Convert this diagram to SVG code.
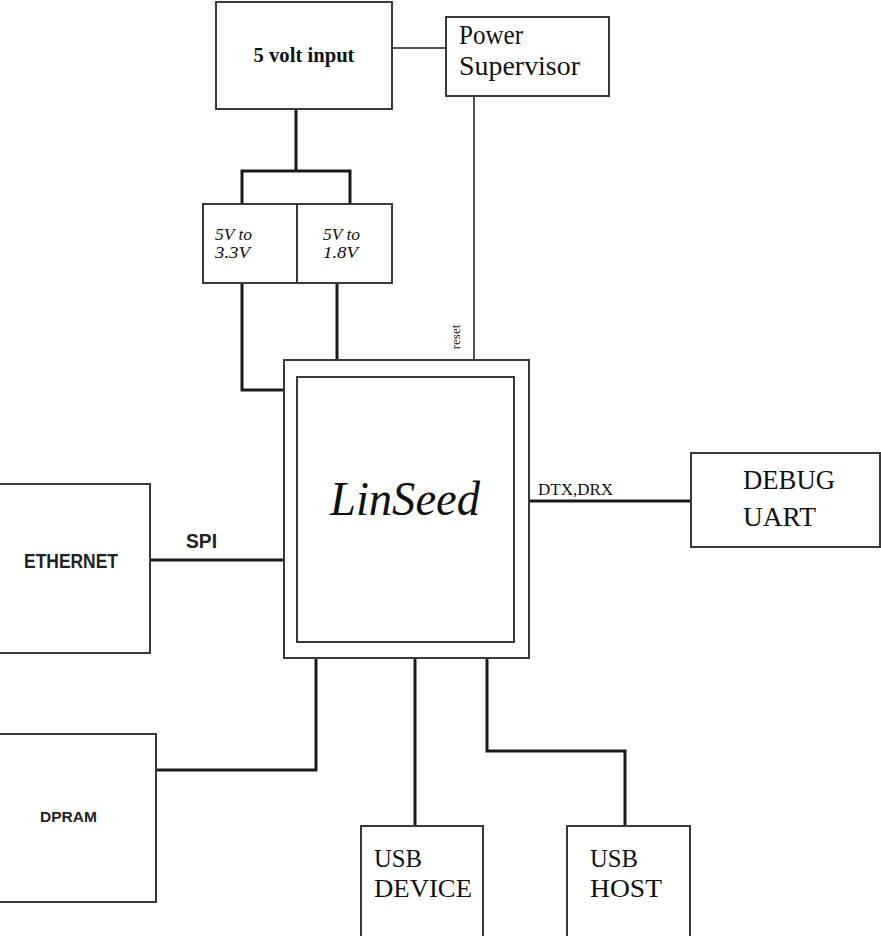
<svg xmlns="http://www.w3.org/2000/svg" width="881" height="936" viewBox="0 0 881 936">
<style>
.box{fill:#fff;stroke:#3a3a3a;stroke-width:2}
.ln{fill:none;stroke:#1a1a1a;stroke-width:3}
.thin{fill:none;stroke:#555;stroke-width:2}
.serif{font-family:"Liberation Serif","Times New Roman",serif;fill:#111}
.sans{font-family:"Liberation Sans",Arial,sans-serif;font-weight:bold;fill:#222}
</style>
<rect width="881" height="936" fill="#fff"/>
<g id="connectors">
<line class="thin" x1="392" y1="48" x2="446" y2="48"/>
<line class="thin" x1="474" y1="96" x2="474" y2="360"/>
<polyline class="ln" points="296,110 296,171"/>
<polyline class="ln" points="242,204 242,171 350,171 350,204"/>
<polyline class="ln" points="242,283 242,390 285,390"/>
<polyline class="ln" points="337,283 337,360"/>
<line class="ln" x1="150" y1="560" x2="284" y2="560"/>
<line class="ln" x1="529" y1="501" x2="691" y2="501"/>
<polyline class="ln" points="156,770 316,770 316,658"/>
<line class="ln" x1="415" y1="658" x2="415" y2="826"/>
<polyline class="ln" points="487,658 487,751 625,751 625,826"/>
<line class="ln" x1="527" y1="377" x2="527" y2="422"/>
</g>
<g id="five-volt-input">
<rect class="box" x="216" y="2" width="176" height="107"/>
<text class="serif" x="304" y="62" font-size="22" font-weight="bold" text-anchor="middle" textLength="101" lengthAdjust="spacingAndGlyphs">5 volt input</text>
</g>
<g id="power-supervisor">
<rect class="box" x="446" y="17" width="163" height="79"/>
<text class="serif" x="459" y="44" font-size="28" textLength="64" lengthAdjust="spacingAndGlyphs">Power</text>
<text class="serif" x="459" y="75" font-size="28" textLength="121" lengthAdjust="spacingAndGlyphs">Supervisor</text>
</g>
<g id="reg-3v3">
<rect class="box" x="203" y="204" width="94" height="79"/>
<text class="serif" x="215" y="240" font-size="16" font-style="italic" textLength="37" lengthAdjust="spacingAndGlyphs">5V to</text>
<text class="serif" x="215" y="258" font-size="16" font-style="italic" textLength="35" lengthAdjust="spacingAndGlyphs">3.3V</text>
</g>
<g id="reg-1v8">
<rect class="box" x="297" y="204" width="95" height="79"/>
<text class="serif" x="323" y="240" font-size="16" font-style="italic" textLength="37" lengthAdjust="spacingAndGlyphs">5V to</text>
<text class="serif" x="323" y="258" font-size="16" font-style="italic" textLength="35" lengthAdjust="spacingAndGlyphs">1.8V</text>
</g>
<g id="reset-label">
<text class="serif" x="0" y="0" font-size="13" text-anchor="middle" transform="translate(460,337) rotate(-90)">reset</text>
</g>
<g id="linseed">
<rect class="box" x="284" y="360" width="245" height="298"/>
<rect class="box" x="297" y="377" width="217" height="265"/>
<text class="serif" x="405" y="515" font-size="48" font-style="italic" text-anchor="middle" textLength="150" lengthAdjust="spacingAndGlyphs">LinSeed</text>
</g>
<g id="ethernet">
<rect class="box" x="-2" y="484" width="152" height="169"/>
<text class="sans" x="24" y="568" font-size="20" textLength="94" lengthAdjust="spacingAndGlyphs">ETHERNET</text>
</g>
<text class="sans" x="186" y="548" font-size="20" textLength="31" lengthAdjust="spacingAndGlyphs">SPI</text>
<text class="serif" x="538" y="495" font-size="17" textLength="75" lengthAdjust="spacingAndGlyphs">DTX,DRX</text>
<g id="debug-uart">
<rect class="box" x="691" y="453" width="189" height="94"/>
<text class="serif" x="743" y="489" font-size="27" textLength="92" lengthAdjust="spacingAndGlyphs">DEBUG</text>
<text class="serif" x="743" y="526" font-size="27" textLength="73" lengthAdjust="spacingAndGlyphs">UART</text>
</g>
<g id="dpram">
<rect class="box" x="-2" y="734" width="158" height="168"/>
<text class="sans" x="40" y="822" font-size="14" textLength="57" lengthAdjust="spacingAndGlyphs">DPRAM</text>
</g>
<g id="usb-device">
<rect class="box" x="361" y="826" width="122" height="112"/>
<text class="serif" x="374" y="867" font-size="26" textLength="48" lengthAdjust="spacingAndGlyphs">USB</text>
<text class="serif" x="374" y="897" font-size="26" textLength="98" lengthAdjust="spacingAndGlyphs">DEVICE</text>
</g>
<g id="usb-host">
<rect class="box" x="567" y="826" width="123" height="112"/>
<text class="serif" x="590" y="867" font-size="26" textLength="48" lengthAdjust="spacingAndGlyphs">USB</text>
<text class="serif" x="590" y="897" font-size="26" textLength="72" lengthAdjust="spacingAndGlyphs">HOST</text>
</g>
</svg>
